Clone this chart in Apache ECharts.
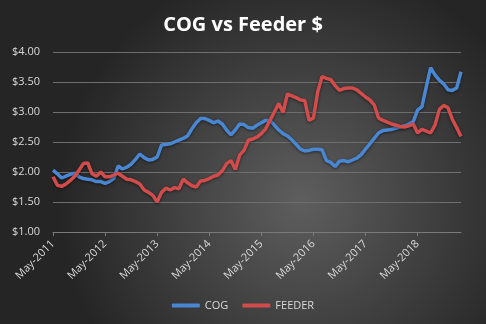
<!DOCTYPE html>
<html>
<head>
<meta charset="utf-8">
<script src="https://cdn.jsdelivr.net/npm/echarts@6/dist/echarts.min.js"></script>
<style>html,body{margin:0;padding:0;background:#333;}#c{width:486px;height:324px;}</style>
</head>
<body>
<div id="c"></div>
<script>
// Monthly categories May-2011 .. Mar-2019
const monthNames = ['Jan','Feb','Mar','Apr','May','Jun','Jul','Aug','Sep','Oct','Nov','Dec'];
const startYear = 2011, startMonth = 4, monthCount = 95;
const categories = [];
for (let i = 0; i < monthCount; i++) {
  const mi = (startMonth + i) % 12, y = startYear + Math.floor((startMonth + i) / 12);
  categories.push(monthNames[mi] + '-' + y);
}
const cogValues = [
  2.03,1.97,1.90,1.93,1.96,1.98,1.92,1.89,1.88,1.87,1.84,1.84,
  1.81,1.84,1.89,2.10,2.05,2.08,2.13,2.21,2.30,2.24,2.20,2.21,
  2.25,2.45,2.46,2.47,2.50,2.53,2.56,2.60,2.72,2.82,2.89,2.89,
  2.86,2.82,2.85,2.80,2.70,2.62,2.70,2.80,2.79,2.74,2.73,2.78,
  2.82,2.86,2.86,2.78,2.70,2.64,2.60,2.54,2.46,2.38,2.35,2.36,
  2.38,2.38,2.37,2.19,2.16,2.09,2.18,2.19,2.17,2.20,2.23,2.29,
  2.38,2.47,2.56,2.65,2.69,2.70,2.71,2.73,2.75,2.77,2.80,2.84,
  3.03,3.09,3.42,3.74,3.62,3.53,3.47,3.37,3.36,3.40,3.67
];
const feederValues = [
  1.92,1.78,1.76,1.80,1.86,1.93,2.03,2.14,2.15,1.97,1.93,2.00,
  1.92,1.92,1.95,1.98,1.93,1.88,1.87,1.84,1.80,1.70,1.66,1.61,
  1.50,1.66,1.73,1.70,1.74,1.72,1.88,1.82,1.77,1.75,1.85,1.86,
  1.89,1.93,1.95,2.02,2.14,2.19,2.04,2.28,2.36,2.53,2.55,2.58,
  2.64,2.72,2.86,3.00,3.14,2.99,3.30,3.27,3.24,3.20,3.19,2.86,
  2.90,3.34,3.59,3.56,3.54,3.44,3.36,3.39,3.40,3.40,3.37,3.31,
  3.25,3.20,3.12,2.90,2.86,2.83,2.80,2.78,2.76,2.75,2.77,2.80,
  2.65,2.71,2.68,2.65,2.78,3.04,3.11,3.07,2.88,2.74,2.59
];
const yTicks = { min: 1, max: 4, interval: 0.5 };

const chart = echarts.init(document.getElementById('c'));
const font = "'Open Sans', 'Liberation Sans', sans-serif";
chart.setOption({
  backgroundColor: new echarts.graphic.RadialGradient(0.62, 0.62, 0.75, [
    { offset: 0, color: '#5e5e5e' },
    { offset: 1, color: '#252525' }
  ]),
  animation: false,
  title: {
    text: 'COG vs Feeder $',
    left: 'center',
    top: 10,
    textStyle: { color: '#ffffff', fontSize: 20, fontWeight: 'bold', fontFamily: font }
  },
  legend: {
    bottom: 8,
    left: 'center',
    itemWidth: 28,
    itemHeight: 4,
    itemGap: 14,
    icon: 'roundRect',
    textStyle: { color: '#d9d9d9', fontSize: 11, fontFamily: font },
    data: ['COG', 'FEEDER']
  },
  grid: { left: 53, right: 25, top: 52, bottom: 92 },
  xAxis: {
    type: 'category',
    data: categories,
    boundaryGap: false,
    axisLine: { lineStyle: { color: '#7a7a7a' } },
    axisTick: { show: true, interval: (i) => i % 12 === 0, length: 4, lineStyle: { color: '#7a7a7a' } },
    axisLabel: {
      interval: (i) => i % 12 === 0,
      rotate: 45,
      color: '#d9d9d9',
      fontSize: 11,
      fontFamily: font,
      margin: 10
    },
    splitLine: { show: false }
  },
  yAxis: {
    type: 'value',
    min: yTicks.min,
    max: yTicks.max,
    interval: yTicks.interval,
    axisLine: { show: false },
    axisTick: { show: false },
    axisLabel: {
      color: '#d9d9d9',
      fontSize: 11,
      fontFamily: font,
      margin: 13,
      formatter: (v) => '$' + v.toFixed(2)
    },
    splitLine: { lineStyle: { color: '#6e6e6e', width: 1 } }
  },
  series: [
    {
      name: 'COG', type: 'line', data: cogValues, showSymbol: false, symbol: 'none',
      itemStyle: { color: '#4a87d2' },
      lineStyle: { width: 3.5, color: '#4a87d2', shadowColor: 'rgba(0,0,0,0.5)', shadowBlur: 3, shadowOffsetY: 1 }
    },
    {
      name: 'FEEDER', type: 'line', data: feederValues, showSymbol: false, symbol: 'none',
      itemStyle: { color: '#d24c4b' },
      lineStyle: { width: 3.5, color: '#d24c4b', shadowColor: 'rgba(0,0,0,0.5)', shadowBlur: 3, shadowOffsetY: 1 }
    }
  ]
});
</script>
</body>
</html>
